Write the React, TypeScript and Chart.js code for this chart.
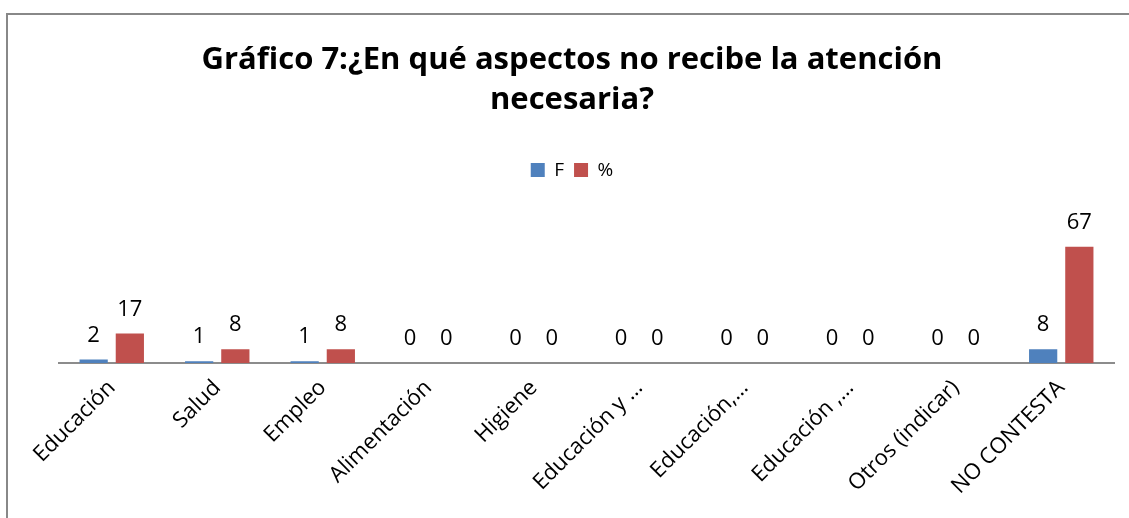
import React, { useEffect, useRef } from "react";
import { Chart, registerables } from "chart.js";

Chart.register(...registerables);

const titleLines = ["Gráfico 7:¿En qué aspectos no recibe la atención", "necesaria?"];
const categories = [
  "Educación",
  "Salud",
  "Empleo",
  "Alimentación",
  "Higiene",
  "Educación y …",
  "Educación,…",
  "Educación ,…",
  "Otros (indicar)",
  "NO CONTESTA",
];
const fValues = [2, 1, 1, 0, 0, 0, 0, 0, 0, 8];
const pctValues = [17, 8, 8, 0, 0, 0, 0, 0, 0, 67];
const seriesNames = ["F", "%"];

const FONT = "'Open Sans', 'Noto Sans', sans-serif";

const valueLabels = {
  id: "valueLabels",
  afterDatasetsDraw(chart: any) {
    const ctx = chart.ctx;
    ctx.save();
    ctx.font = `22px ${FONT}`;
    ctx.fillStyle = "#000";
    ctx.textAlign = "center";
    ctx.textBaseline = "alphabetic";
    chart.data.datasets.forEach((ds: any, i: number) => {
      const meta = chart.getDatasetMeta(i);
      meta.data.forEach((el: any, j: number) => {
        ctx.fillText(String(ds.data[j]), el.x, el.y - 18);
      });
    });
    ctx.restore();
  },
};

export default function App() {
  const ref = useRef<HTMLCanvasElement>(null);
  useEffect(() => {
    if (!ref.current) return;
    const chart = new Chart(ref.current, {
      type: "bar",
      data: {
        labels: categories,
        datasets: [
          {
            label: seriesNames[0],
            data: fValues,
            backgroundColor: "#4F81BD",
            categoryPercentage: 0.686,
            barPercentage: 0.78,
          },
          {
            label: seriesNames[1],
            data: pctValues,
            backgroundColor: "#C0504D",
            categoryPercentage: 0.686,
            barPercentage: 0.78,
          },
        ],
      },
      options: {
        animation: false,
        responsive: false,
        maintainAspectRatio: false,
        layout: { padding: { left: 30, right: 15, top: 0, bottom: 0 } },
        plugins: {
          title: {
            display: true,
            text: titleLines,
            color: "#000",
            font: { family: FONT, size: 31, weight: "bold", lineHeight: 1.3 },
            padding: { top: 40, bottom: 30 },
          },
          legend: {
            display: true,
            position: "top",
            labels: {
              boxWidth: 14,
              boxHeight: 14,
              color: "#000",
              font: { family: FONT, size: 19 },
              padding: 10,
            },
          },
          tooltip: { enabled: false },
        },
        scales: {
          x: {
            grid: { display: false, drawTicks: false },
            border: { display: true, color: "#8c8c8c", width: 2 },
            ticks: {
              color: "#000",
              font: { family: FONT, size: 22 },
              minRotation: 45,
              maxRotation: 45,
              padding: 12,
              autoSkip: false,
            },
            afterFit: (scale: any) => {
              scale.height = 155;
            },
          },
          y: {
            display: true,
            min: 0,
            max: 100,
            grid: { display: false, drawTicks: false },
            border: { display: false },
            ticks: { display: false },
            afterFit: (scale: any) => {
              scale.width = 29;
            },
          },
        },
      },
      plugins: [valueLabels],
    });
    return () => chart.destroy();
  }, []);
  return (
    <div style={{ position: "fixed", left: 0, top: 0, width: 1129, height: 518, background: "#fff" }}>
      <div
        style={{
          position: "absolute",
          left: 6,
          top: 13,
          right: -10,
          bottom: -10,
          borderTop: "2px solid #888",
          borderLeft: "2px solid #888",
        }}
      />
      <canvas ref={ref} width={1129} height={518} style={{ position: "absolute", left: 0, top: 0 }} />
    </div>
  );
}
